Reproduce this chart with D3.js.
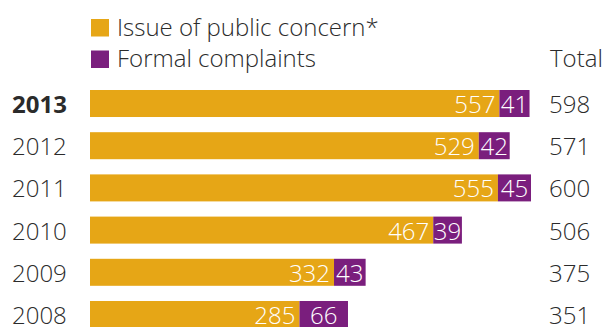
<!DOCTYPE html>
<html>
<head>
<meta charset="utf-8">
<script src="https://cdn.jsdelivr.net/npm/d3@7"></script>
<style>
  body { margin: 0; background: #fff; }
  text { font-family: "Open Sans", sans-serif; }
</style>
</head>
<body>
<svg id="chart" width="602" height="327"></svg>
<script>
'use strict';
// chart data
const years = ["2013", "2012", "2011", "2010", "2009", "2008"];
const publicConcern = [557, 529, 555, 467, 332, 285];
const formalComplaints = [41, 42, 45, 39, 43, 66];
const totals = [598, 571, 600, 506, 375, 351];
const seriesNames = ["Issue of public concern*", "Formal complaints"];

const gold = "#e6a616";
const purple = "#7a1e7d";
const textCol = "#2b2b2b";
const fontSize = 24;
const light = 300;

const svg = d3.select("#chart");

const x = d3.scaleLinear().domain([0, 600]).range([90, 531]);
const y = d3.scaleBand().domain(years).range([90, 328]).paddingInner(0.36).paddingOuter(0);

// legend
const legend = svg.append("g");
[gold, purple].forEach((c, i) => {
  legend.append("rect")
    .attr("x", 91).attr("y", 19 + i * 31.5)
    .attr("width", 18).attr("height", 17.5)
    .attr("fill", c);
  legend.append("text")
    .attr("x", 117).attr("y", 36 + i * 30.7)
    .attr("font-size", fontSize).attr("font-weight", light).attr("fill", textCol)
    .text(seriesNames[i]);
});
svg.append("text")
  .attr("x", 550).attr("y", 67)
  .attr("font-size", fontSize).attr("font-weight", light).attr("fill", textCol)
  .text("Total");

const rows = svg.append("g")
  .selectAll("g").data(years).join("g")
  .attr("transform", d => `translate(0,${y(d)})`);

const h = y.bandwidth();
const base = h / 2 + 9.5;

rows.append("rect")
  .attr("x", x(0))
  .attr("width", (d, i) => x(publicConcern[i]) - x(0))
  .attr("height", h)
  .attr("fill", gold);

rows.append("rect")
  .attr("x", (d, i) => x(publicConcern[i]))
  .attr("width", (d, i) => x(publicConcern[i] + formalComplaints[i]) - x(publicConcern[i]))
  .attr("height", h)
  .attr("fill", purple);

// year labels
rows.append("text")
  .attr("x", 12).attr("y", base)
  .attr("font-size", fontSize)
  .attr("font-weight", (d, i) => i == 0 ? 700 : light)
  .attr("fill", textCol)
  .text(d => d);

// values inside bars
rows.append("text")
  .attr("x", (d, i) => x(publicConcern[i]) - 4)
  .attr("y", base)
  .attr("text-anchor", "end")
  .attr("font-size", fontSize).attr("font-weight", light).attr("fill", "#fff")
  .text((d, i) => publicConcern[i]);

rows.append("text")
  .attr("x", (d, i) => (x(publicConcern[i]) + x(publicConcern[i] + formalComplaints[i])) / 2)
  .attr("y", base)
  .attr("text-anchor", "middle")
  .attr("font-size", fontSize).attr("font-weight", light).attr("fill", "#fff")
  .text((d, i) => formalComplaints[i]);

// totals
rows.append("text")
  .attr("x", 549).attr("y", base)
  .attr("font-size", fontSize).attr("font-weight", light).attr("fill", textCol)
  .text((d, i) => totals[i]);
</script>
</body>
</html>
